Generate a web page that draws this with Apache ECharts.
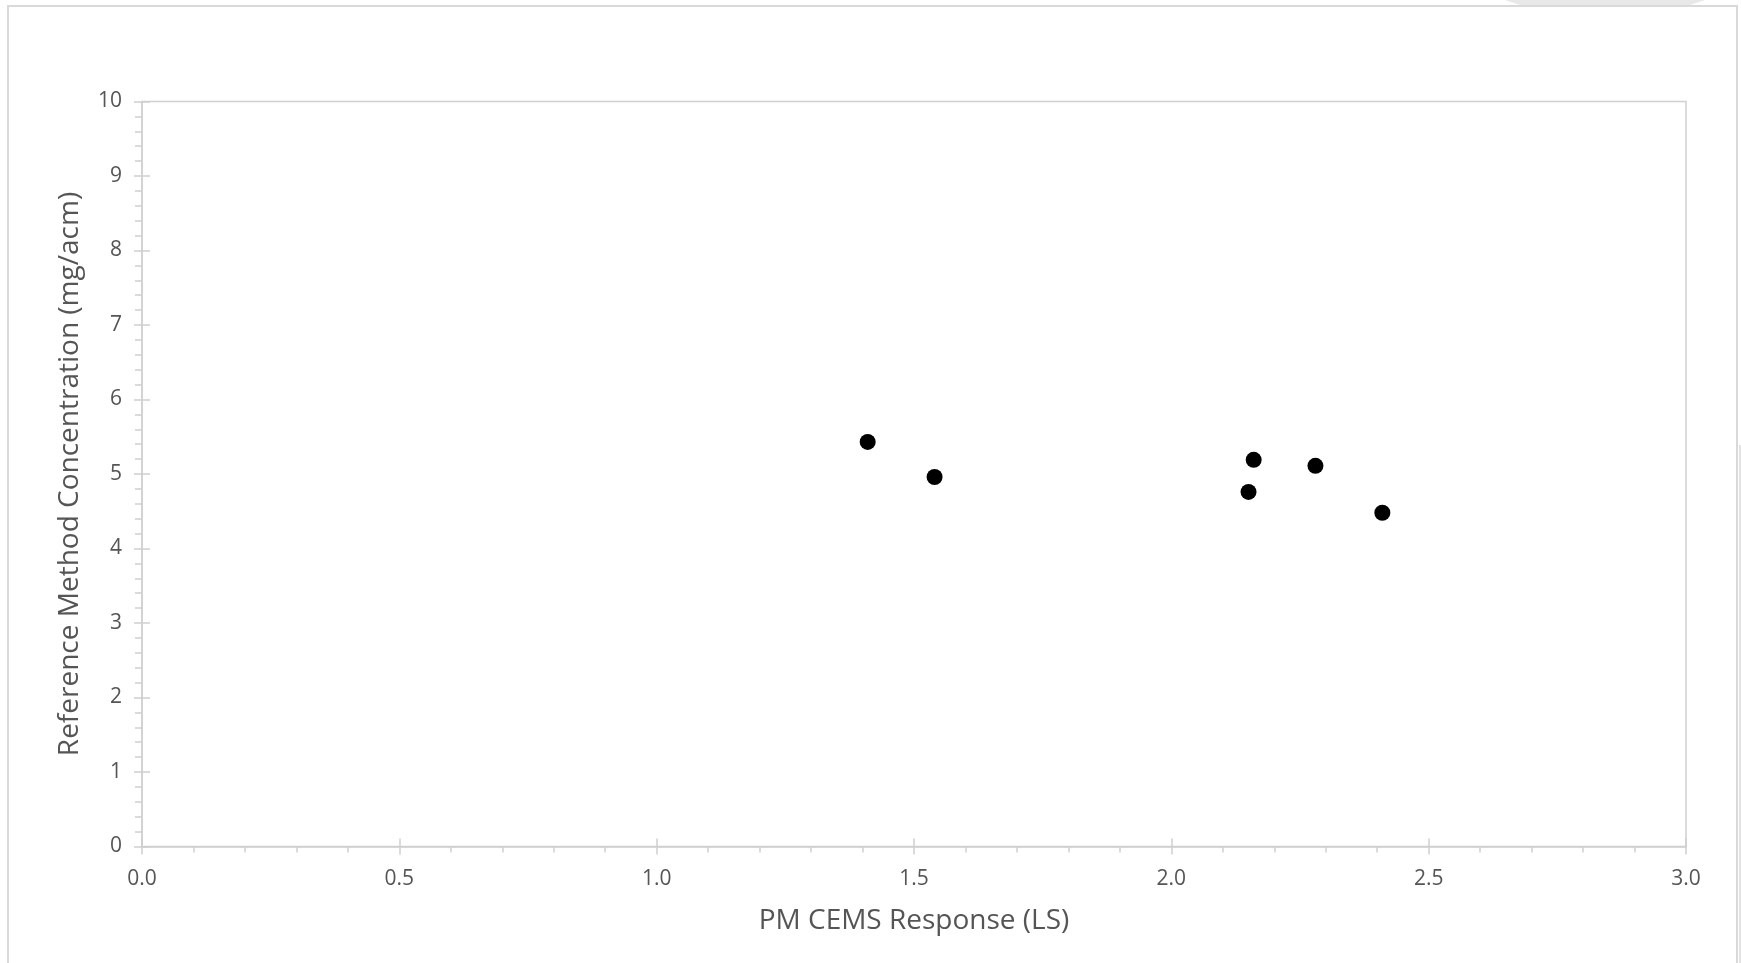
<!DOCTYPE html>
<html>
<head>
<meta charset="utf-8">
<script src="https://cdn.jsdelivr.net/npm/echarts@6/dist/echarts.min.js"></script>
<style>
html,body{margin:0;padding:0;background:#fff;}
#chart{width:1741px;height:963px;}
</style>
</head>
<body>
<div id="chart"></div>
<script>
// Data
const xValues = [1.41, 1.54, 2.16, 2.15, 2.28, 2.41];
const yValues = [5.43, 4.96, 5.19, 4.76, 5.11, 4.48];
const xAxisTitle = 'PM CEMS Response (LS)';
const yAxisTitle = 'Reference Method Concentration (mg/acm)';
const xRange = [0, 3];
const xStep = 0.5;
const yRange = [0, 10];
const yStep = 1;

const points = xValues.map((x, i) => [x, yValues[i]]);

const FONT = 'Open Sans';
const GRAY_TEXT = '#555555';
const LINE = '#d0d0d0';

const chart = echarts.init(document.getElementById('chart'), null, {renderer: 'canvas'});
chart.setOption({
  backgroundColor: '#ffffff',
  animation: false,
  graphic: [
    {type: 'rect', shape: {x: 8, y: 6, width: 1729, height: 1000}, style: {fill: 'none', stroke: '#d9d9d9', lineWidth: 2}, silent: true, z: -10},
    {type: 'polygon', shape: {points: [[1505, 0], [1705, 0], [1690, 5], [1520, 5]]}, style: {fill: '#e8e8e8'}, silent: true, z: -10},
    {type: 'rect', shape: {x: 1739, y: 445, width: 3, height: 520}, style: {fill: '#e3e3e3'}, silent: true, z: -10}
  ],
  grid: {
    left: 142, right: 55, top: 101.5, bottom: 116.5,
    show: true, borderColor: LINE, borderWidth: 1.5, backgroundColor: 'transparent'
  },
  xAxis: [
    {
      type: 'value', position: 'bottom', min: xRange[0], max: xRange[1], interval: xStep,
      name: xAxisTitle, nameLocation: 'middle', nameGap: 61,
      nameTextStyle: {fontFamily: FONT, fontSize: 28, color: GRAY_TEXT},
      axisLine: {show: true, onZero: false, lineStyle: {color: LINE, width: 1.5}},
      axisTick: {show: true, inside: false, length: 8, lineStyle: {color: LINE, width: 1.5}},
      minorTick: {show: true, splitNumber: 5, length: 6, lineStyle: {color: LINE, width: 1.5}},
      splitLine: {show: false},
      axisLabel: {fontFamily: FONT, fontSize: 21, color: GRAY_TEXT, margin: 22,
        formatter: v => v.toFixed(1)}
    },
    {
      type: 'value', position: 'bottom', min: xRange[0], max: xRange[1], interval: xStep,
      axisLine: {show: false, onZero: false},
      axisTick: {show: true, inside: true, length: 8, lineStyle: {color: LINE, width: 1.5}},
      splitLine: {show: false},
      axisLabel: {show: false}
    }
  ],
  yAxis: [
    {
      type: 'value', position: 'left', min: yRange[0], max: yRange[1], interval: yStep,
      name: yAxisTitle, nameLocation: 'middle', nameGap: 58,
      nameTextStyle: {fontFamily: FONT, fontSize: 28, color: GRAY_TEXT},
      axisLine: {show: true, onZero: false, lineStyle: {color: LINE, width: 1.5}},
      axisTick: {show: true, inside: false, length: 8, lineStyle: {color: LINE, width: 1.5}},
      minorTick: {show: true, splitNumber: 5, length: 7, lineStyle: {color: LINE, width: 1.5}},
      splitLine: {show: false},
      axisLabel: {fontFamily: FONT, fontSize: 21, color: GRAY_TEXT, margin: 20}
    },
    {
      type: 'value', position: 'left', min: yRange[0], max: yRange[1], interval: yStep,
      axisLine: {show: false, onZero: false},
      axisTick: {show: true, inside: true, length: 8, lineStyle: {color: LINE, width: 1.5}},
      splitLine: {show: false},
      axisLabel: {show: false}
    }
  ],
  series: [{
    type: 'scatter',
    xAxisIndex: 0, yAxisIndex: 0,
    data: points,
    symbol: 'circle',
    symbolSize: 16,
    itemStyle: {color: '#000000', opacity: 1}
  }]
});
</script>
</body>
</html>
